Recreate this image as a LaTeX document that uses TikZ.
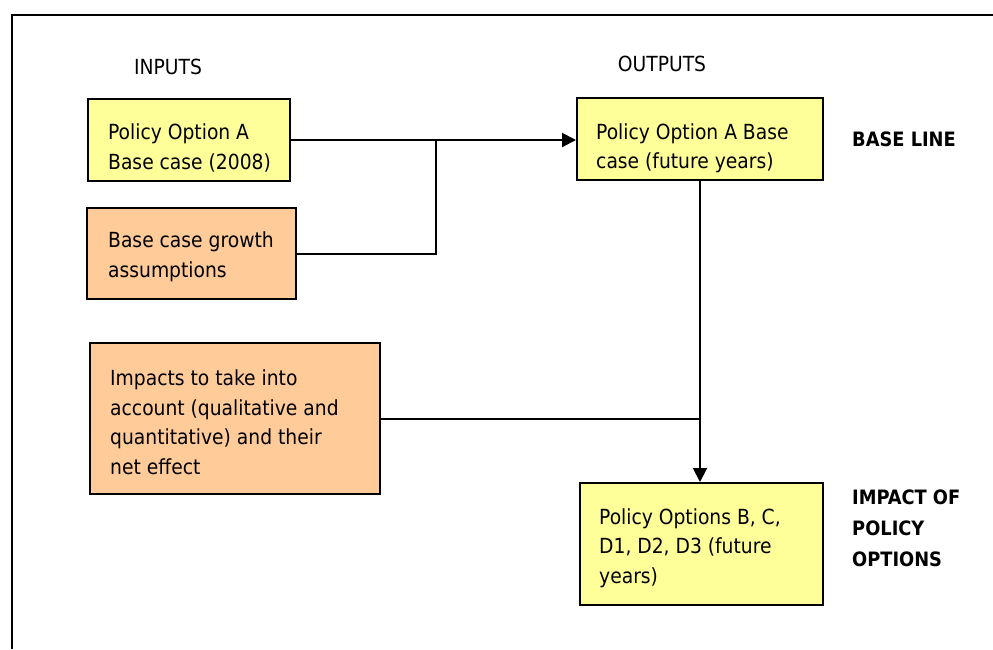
\documentclass[tikz,border=0pt]{standalone}
\usepackage{fontspec}
\setmainfont{DejaVu Sans Condensed}
\usetikzlibrary{arrows.meta}
\definecolor{ylw}{HTML}{FFFF99}
\definecolor{org}{HTML}{FFCC99}
\tikzset{
  boxbase/.style={draw=black, line width=2pt, rectangle, inner sep=0pt},
  ybox/.style={boxbase, fill=ylw},
  obox/.style={boxbase, fill=org},
  txt/.style={anchor=west, align=left, inner sep=0pt, font=\fontsize{20.8}{29.5}\selectfont},
  hdr/.style={inner sep=0pt, font=\fontsize{20.8}{31}\selectfont},
  conn/.style={draw=black, line width=2pt},
  arr/.style={conn, -{Triangle[length=14pt,width=14pt]}},
}
\begin{document}
\begin{tikzpicture}[x=1pt,y=-1pt]
\useasboundingbox (0,0) rectangle (993,649);
\fill[white] (0,0) rectangle (993,649);
\draw[line width=2pt] (12,649) -- (12,15) -- (993,15);

% headers
\node[hdr] (inputs) at (168,67) {INPUTS};
\node[hdr] (outputs) at (662,64) {OUTPUTS};
\node[hdr, anchor=west, font=\fontsize{19.8}{31}\selectfont\bfseries] (baseline) at (852,139) {BASE LINE};
\node[hdr, anchor=west, align=left, font=\fontsize{19.8}{31}\selectfont\bfseries] (impact) at (852,528) {IMPACT OF\\POLICY\\OPTIONS};

% boxes
\node[ybox, minimum width=202pt, minimum height=82pt] (a) at (189,140) {};
\node[txt] (atxt) at (108,148) {Policy Option A\\Base case (2008)};

\node[obox, minimum width=209pt, minimum height=91pt] (g) at (191.5,253.5) {};
\node[txt] (gtxt) at (108,257) {Base case growth\\assumptions};

\node[obox, minimum width=290pt, minimum height=151pt] (imp) at (235,418.5) {};
\node[txt] (imptxt) at (110,422) {Impacts to take into\\account (qualitative and\\quantitative) and their\\net effect};

\node[ybox, minimum width=246pt, minimum height=82pt] (oa) at (700,139) {};
\node[txt] (oatxt) at (596,148.5) {Policy Option A Base\\case (future years)};

\node[ybox, minimum width=243pt, minimum height=122pt] (ob) at (701.5,544) {};
\node[txt] (obtxt) at (599,548) {Policy Options B, C,\\D1, D2, D3 (future\\years)};

% connectors
\coordinate (j1) at (436,140);
\coordinate (j2) at (700,419);
\draw[arr] (a.east |- j1) -- (oa.west |- j1);
\draw[conn] (g.east) -- (g.east -| j1) -- (j1);
\draw[arr] (oa.south) -- (ob.north -| oa.south);
\draw[conn] (imp.east |- j2) -- (j2);
\end{tikzpicture}
\end{document}
